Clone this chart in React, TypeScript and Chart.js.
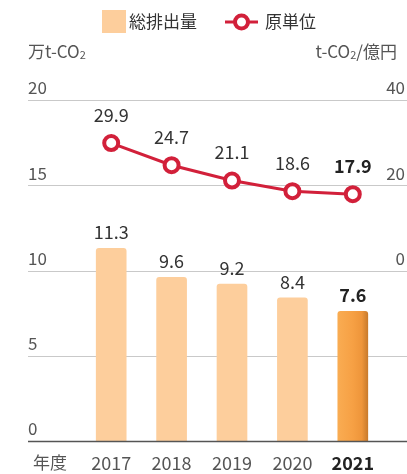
import React, { useEffect, useRef } from "react";
import { Chart, registerables } from "chart.js";

Chart.register(...registerables);

const years = ["2017", "2018", "2019", "2020", "2021"];
const totalEmissions = [11.3, 9.6, 9.2, 8.4, 7.6];
const intensity = [29.9, 24.7, 21.1, 18.6, 17.9];
const leftTicks = [0, 5, 10, 15, 20];
const rightTicks = [0, 20, 40];

const FONT = "'Noto Sans CJK JP', 'Noto Sans', sans-serif";
const BAR_COLOR = "#FDCE9C";
const RED = "#D2203A";
const TEXT = "#333333";
const AXIS_TEXT = "#555555";

const W = 407;
const H = 474;

function drawSub(ctx: CanvasRenderingContext2D, parts: { t: string; sub?: boolean }[], x: number, y: number, align: "left" | "right", size: number) {
  const widths = parts.map((p) => {
    ctx.font = `${p.sub ? Math.round(size * 0.65) : size}px ${FONT}`;
    return ctx.measureText(p.t).width;
  });
  const total = widths.reduce((a, b) => a + b, 0);
  let cx = align === "left" ? x : x - total;
  ctx.textAlign = "left";
  ctx.textBaseline = "alphabetic";
  parts.forEach((p, i) => {
    ctx.font = `${p.sub ? Math.round(size * 0.65) : size}px ${FONT}`;
    ctx.fillText(p.t, cx, p.sub ? y + 1 : y);
    cx += widths[i];
  });
}

const decorPlugin = {
  id: "decor",
  beforeDatasetsDraw(chart: any) {
    const ctx: CanvasRenderingContext2D = chart.ctx;
    const yL = chart.scales.y;
    const yR = chart.scales.y1;
    ctx.save();
    // gridlines
    leftTicks.forEach((v) => {
      const py = Math.round(yL.getPixelForValue(v)) + 0.5;
      ctx.beginPath();
      ctx.moveTo(28, py);
      ctx.lineTo(W, py);
      ctx.strokeStyle = "#C9C9C9";
      ctx.lineWidth = 1;
      ctx.stroke();
    });
    // left tick labels
    ctx.fillStyle = AXIS_TEXT;
    ctx.font = `17px ${FONT}`;
    ctx.textBaseline = "middle";
    ctx.textAlign = "left";
    leftTicks.forEach((v) => {
      const py = yL.getPixelForValue(v);
      ctx.fillText(String(v), 28, py - 12);
    });
    ctx.textAlign = "right";
    rightTicks.forEach((v) => {
      const py = yR.getPixelForValue(v);
      ctx.fillText(String(v), 405, py - 12);
    });
    // axis titles
    ctx.fillStyle = AXIS_TEXT;
    drawSub(ctx, [{ t: "万t-CO" }, { t: "2", sub: true }], 28, 58, "left", 17);
    drawSub(ctx, [{ t: "t-CO" }, { t: "2", sub: true }, { t: "/億円" }], 397, 58, "right", 17);
    // legend
    ctx.fillStyle = BAR_COLOR;
    ctx.fillRect(102, 10, 24, 23);
    ctx.fillStyle = TEXT;
    ctx.font = `17px ${FONT}`;
    ctx.textAlign = "left";
    ctx.textBaseline = "middle";
    ctx.fillText("総排出量", 129, 22);
    ctx.beginPath();
    ctx.moveTo(225, 22);
    ctx.lineTo(258, 22);
    ctx.strokeStyle = RED;
    ctx.lineWidth = 3;
    ctx.stroke();
    ctx.beginPath();
    ctx.arc(241.5, 22, 6.5, 0, Math.PI * 2);
    ctx.fillStyle = "#fff";
    ctx.fill();
    ctx.lineWidth = 4;
    ctx.stroke();
    ctx.fillStyle = TEXT;
    ctx.fillText("原単位", 265, 22);
    // x labels
    const xS = chart.scales.x;
    ctx.textAlign = "center";
    ctx.fillStyle = AXIS_TEXT;
    ctx.fillText("年度", 50, 463);
    years.forEach((y, i) => {
      const px = xS.getPixelForValue(i);
      const last = i === years.length - 1;
      ctx.font = `${last ? "bold " : ""}18px ${FONT}`;
      ctx.fillStyle = last ? "#222" : AXIS_TEXT;
      ctx.fillText(y, px, 463);
    });
    ctx.restore();
  },
  afterDatasetsDraw(chart: any) {
    const ctx: CanvasRenderingContext2D = chart.ctx;
    const yL = chart.scales.y;
    ctx.save();
    // baseline
    const by = Math.round(yL.getPixelForValue(0)) + 0.5;
    ctx.beginPath();
    ctx.moveTo(28, by);
    ctx.lineTo(W, by);
    ctx.strokeStyle = "#555";
    ctx.lineWidth = 1.5;
    ctx.stroke();
    ctx.textAlign = "center";
    ctx.textBaseline = "middle";
    const barMeta = chart.getDatasetMeta(0);
    barMeta.data.forEach((el: any, i: number) => {
      const last = i === totalEmissions.length - 1;
      ctx.font = `${last ? "bold " : ""}18px ${FONT}`;
      ctx.fillStyle = last ? "#222" : TEXT;
      ctx.fillText(totalEmissions[i].toFixed(1), el.x, el.y - 16);
    });
    const lineMeta = chart.getDatasetMeta(1);
    lineMeta.data.forEach((el: any, i: number) => {
      const last = i === intensity.length - 1;
      ctx.font = `${last ? "bold " : ""}18px ${FONT}`;
      ctx.fillStyle = last ? "#222" : TEXT;
      ctx.fillText(intensity[i].toFixed(1), el.x, el.y - 28);
    });
    ctx.restore();
  },
};

export default function App() {
  const ref = useRef<HTMLCanvasElement>(null);
  useEffect(() => {
    if (!ref.current) return;
    const chart = new Chart(ref.current, {
      type: "bar",
      data: {
        labels: years,
        datasets: [
          {
            type: "bar",
            label: "総排出量",
            data: totalEmissions,
            yAxisID: "y",
            barThickness: 30,
            borderRadius: { topLeft: 3, topRight: 3, bottomLeft: 0, bottomRight: 0 },
            borderSkipped: false,
            backgroundColor: (c: any) => {
              if (c.dataIndex !== totalEmissions.length - 1) return BAR_COLOR;
              const chartObj = c.chart;
              if (!chartObj.chartArea) return "#F59E3E";
              const px = chartObj.scales.x.getPixelForValue(c.dataIndex);
              const g = chartObj.ctx.createLinearGradient(px - 15, 0, px + 15, 0);
              g.addColorStop(0, "#F9AC52");
              g.addColorStop(0.5, "#F6A044");
              g.addColorStop(0.8, "#EE953A");
              g.addColorStop(1, "#C97B2C");
              return g;
            },
            order: 2,
          } as any,
          {
            type: "line",
            label: "原単位",
            data: intensity,
            yAxisID: "y1",
            borderColor: RED,
            borderWidth: 3,
            pointRadius: 7,
            pointBorderWidth: 4,
            pointBackgroundColor: "#fff",
            pointBorderColor: RED,
            order: 1,
          } as any,
        ],
      },
      options: {
        responsive: false,
        animation: false,
        layout: { padding: { left: 81, right: 24, top: 100, bottom: 33 } },
        plugins: { legend: { display: false }, tooltip: { enabled: false } },
        scales: {
          x: { display: false, offset: true },
          y: { display: false, min: 0, max: 20 },
          y1: { display: false, min: -40, max: 40, position: "right" },
        },
      },
      plugins: [decorPlugin],
    });
    return () => chart.destroy();
  }, []);
  return (
    <div style={{ position: "fixed", left: 0, top: 0, width: W, height: H, background: "#fff" }}>
      <canvas ref={ref} width={W} height={H} style={{ width: W, height: H }} />
    </div>
  );
}
